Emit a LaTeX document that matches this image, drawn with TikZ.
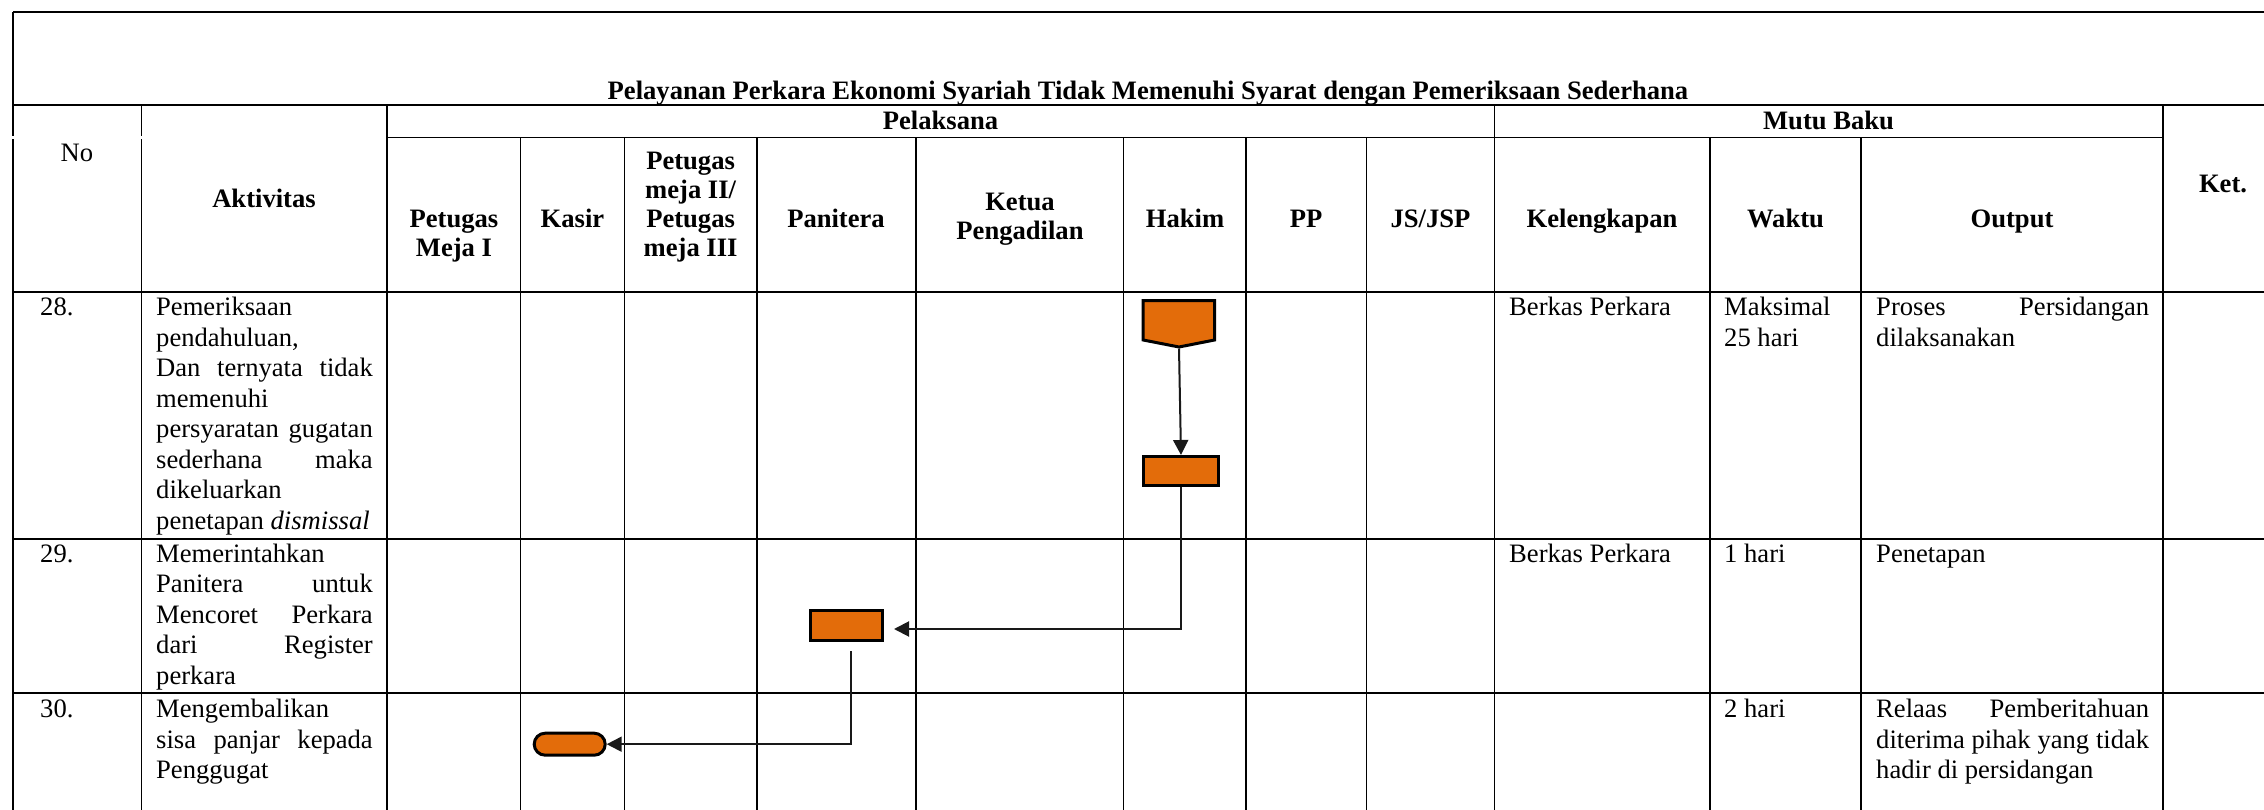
\documentclass[tikz,border=0pt]{standalone}
\usepackage{fontspec}
\setmainfont{Liberation Serif}
\usetikzlibrary{arrows.meta,shapes.misc}
\definecolor{orangeF}{HTML}{E36C0A}
\newcommand{\bfnt}{\fontsize{26.6pt}{30.5pt}\selectfont}
\newcommand{\hfnt}{\fontsize{26.6pt}{28.7pt}\selectfont\bfseries}
\newcommand{\jl}[1]{\makebox[\linewidth][s]{#1}}
\newcommand{\hcell}[1]{\parbox[t]{200pt}{\centering\hfnt #1}}
\newcommand{\bcell}[2]{\parbox[t]{#1}{\raggedright\bfnt #2}}
\begin{document}
\begin{tikzpicture}[x=1pt,y=-1pt,
  grid/.style={line width=1.6pt,black},
  hd/.style={inner sep=0pt,anchor=base,font=\hfnt},
  bd/.style={inner sep=0pt,anchor=base west,font=\bfnt},
  procbox/.style={draw=black,line width=3pt,fill=orangeF,inner sep=0pt},
  conn/.style={draw=black!90,line width=2pt},
  tip/.style={-{Triangle[length=15pt,width=15pt]}}]
\useasboundingbox (0,0) rectangle (2264,810);
% ---- table grid ----
\draw[grid] (13,12) -- (2264,12);
\draw[grid] (13,105) -- (2264,105);
\draw[grid] (387,137.5) -- (2163,137.5);
\draw[grid] (13,292) -- (2264,292);
\draw[grid] (13,539) -- (2264,539);
\draw[grid] (13,693) -- (2264,693);
\draw[grid] (13,12) -- (13,136.5);
\draw[grid] (13,139.5) -- (13,810);
\draw[grid] (141.5,105) -- (141.5,136.5);
\draw[grid] (141.5,139.5) -- (141.5,810);
\foreach \x in {387,1494.4,2163} \draw[grid] (\x,105) -- (\x,810);
\foreach \x in {520.6,624.5,756.7,916,1123.5,1246,1366.6,1710,1861} \draw[grid] (\x,137.5) -- (\x,810);
% ---- header texts ----
\node[hd] (title) at (1148,99.3) {Pelayanan Perkara Ekonomi Syariah Tidak Memenuhi Syarat dengan Pemeriksaan Sederhana};
\node[hd] (pel) at (940.5,130) {Pelaksana};
\node[hd] (mutu) at (1828.5,130) {Mutu Baku};
\node[hd,font=\fontsize{26.6pt}{28.7pt}\selectfont] (no) at (77,161.7) {No};
\node[hd] (akt) at (264,208) {Aktivitas};
\node[hd] (ket) at (2223,193) {Ket.};
\node[hd] (h1) at (454,227.7) {\hcell{Petugas\\Meja I}};
\node[hd] (h2) at (572.5,227.7) {Kasir};
\node[hd] (h3) at (690.6,170) {\hcell{Petugas\\meja II/\\Petugas\\meja III}};
\node[hd] (h4) at (836,227.7) {Panitera};
\node[hd] (h5) at (1020,211) {\hcell{Ketua\\Pengadilan}};
\node[hd] (h6) at (1185,227.7) {Hakim};
\node[hd] (h7) at (1306,227.7) {PP};
\node[hd] (h8) at (1430.5,227.7) {JS/JSP};
\node[hd] (h9) at (1602,227.7) {Kelengkapan};
\node[hd] (h10) at (1785.5,227.7) {Waktu};
\node[hd] (h11) at (2012,227.7) {Output};
% ---- body texts ----
\node[bd] (n28) at (40,316) {28.};
\node[bd] (n29) at (40,562) {29.};
\node[bd] (n30) at (40,717.5) {30.};
\node[bd] (a28) at (156,316) {\bcell{216.6pt}{Pemeriksaan\\ pendahuluan,\\ \jl{Dan ternyata tidak}\\ memenuhi\\ \jl{persyaratan gugatan}\\ \jl{sederhana maka}\\ dikeluarkan\\ penetapan \textit{dismissal}}};
\node[bd] (a29) at (156,562) {\bcell{216.6pt}{Memerintahkan\\ \jl{Panitera untuk}\\ \jl{Mencoret Perkara}\\ \jl{dari Register}\\ perkara}};
\node[bd] (a30) at (156,717.5) {\bcell{216.6pt}{Mengembalikan\\ \jl{sisa panjar kepada}\\ Penggugat}};
\node[bd] (k28) at (1509,316) {Berkas Perkara};
\node[bd] (k29) at (1509,562) {Berkas Perkara};
\node[bd] (w28) at (1724,316) {\bcell{130pt}{Maksimal\\ 25 hari}};
\node[bd] (w29) at (1724,562) {1 hari};
\node[bd] (w30) at (1724,717.5) {2 hari};
\node[bd] (o28) at (1876,316) {\bcell{273pt}{\jl{Proses Persidangan}\\ dilaksanakan}};
\node[bd] (o29) at (1876,562) {Penetapan};
\node[bd] (o30) at (1876,717.5) {\bcell{273pt}{\jl{Relaas Pemberitahuan}\\ \jl{diterima pihak yang tidak}\\ hadir di persidangan}};
% ---- flow shapes ----
\draw[line width=3pt,fill=orangeF,line join=miter]
  (1143.2,300.5) -- (1214.5,300.5) -- (1214.5,340) -- (1179,347) -- (1143.2,340) -- cycle;
\coordinate (hktip) at (1179,348.5);
\node[procbox,minimum width=75pt,minimum height=29pt] (hk) at (1181,471) {};
\node[procbox,minimum width=72pt,minimum height=30pt] (pan) at (846.5,625.5) {};
\node[procbox,rounded rectangle,minimum width=71pt,minimum height=22pt] (ks) at (569.7,744.2) {};
% ---- connectors ----
\draw[conn,tip] (hktip) -- (hk.north);
\draw[conn,tip,shorten >=10pt] (hk.south) |- ([yshift=-3.5pt]pan.east);
\draw[conn,tip] ([xshift=4pt,yshift=-9pt]pan.south) |- (ks.east);
\end{tikzpicture}
\end{document}
